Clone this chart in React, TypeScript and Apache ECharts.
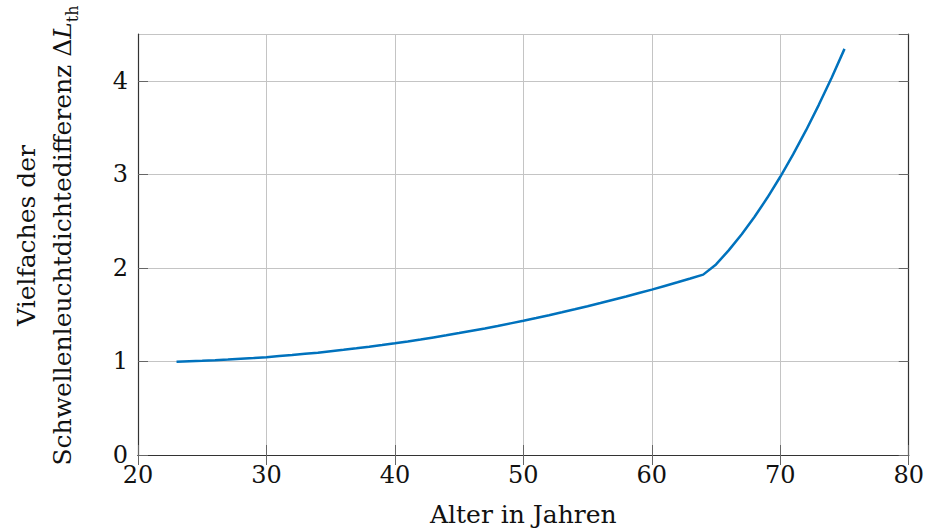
import React, { useEffect, useRef } from "react";
import * as echarts from "echarts";

// Age in years
const ages = [
  23, 24, 25, 26, 27, 28, 29, 30, 31, 32, 33, 34, 35, 36, 37, 38, 39, 40, 41, 42, 43, 44, 45, 46, 47,
  48, 49, 50, 51, 52, 53, 54, 55, 56, 57, 58, 59, 60, 61, 62, 63, 64, 65, 66, 67, 68, 69, 70, 71, 72,
  73, 74, 75,
];
// Multiple of the threshold luminance difference
const factors = [
  0.997, 1.002, 1.007, 1.013, 1.02, 1.028, 1.036, 1.046, 1.057, 1.068, 1.081, 1.094, 1.109, 1.124,
  1.14, 1.157, 1.175, 1.194, 1.214, 1.235, 1.257, 1.279, 1.303, 1.328, 1.353, 1.379, 1.407, 1.435,
  1.464, 1.494, 1.525, 1.557, 1.59, 1.624, 1.659, 1.694, 1.731, 1.768, 1.807, 1.846, 1.886, 1.928,
  2.037, 2.19, 2.36, 2.547, 2.752, 2.974, 3.213, 3.469, 3.743, 4.033, 4.341,
];

const xTitle = "Alter in Jahren";
const yTitle = "Vielfaches der\nSchwellenleuchtdichtedifferenz Δ{it|L}{sub|th}";

const FONT = "DejaVu Serif";
const FS_TICK = 24;
const FS_NAME = 25;

export default function App() {
  const ref = useRef<HTMLDivElement>(null);
  useEffect(() => {
    document.body.style.margin = "0";
    const chart = echarts.init(ref.current!, undefined, { renderer: "svg" });
    const frameColor = "#333333";
    const gridColor = "#c4c4c4";
    const tickCfg = { show: true, inside: true, length: 10, lineStyle: { color: "#666", width: 1 } };
    chart.setOption({
      animation: false,
      backgroundColor: "#ffffff",
      grid: { left: 135, right: 15, top: 34, bottom: 77, containLabel: false },
      xAxis: [
        {
          type: "value",
          min: 20,
          max: 80,
          interval: 10,
          position: "bottom",
          axisLine: { show: true, lineStyle: { color: frameColor, width: 1.2 } },
          axisTick: tickCfg,
          axisLabel: {
            color: "#111",
            fontFamily: FONT,
            fontSize: FS_TICK,
            lineHeight: 20,
            margin: 10,
          },
          splitLine: { show: true, lineStyle: { color: gridColor, width: 1 } },
          name: xTitle,
          nameLocation: "middle",
          nameGap: 47,
          nameTextStyle: { color: "#111", fontFamily: FONT, fontSize: FS_NAME },
        },
        {
          type: "value",
          min: 20,
          max: 80,
          interval: 10,
          position: "top",
          axisLine: { show: true, lineStyle: { color: frameColor, width: 1.2 } },
          axisTick: tickCfg,
          axisLabel: { show: false },
          splitLine: { show: false },
        },
      ],
      yAxis: [
        {
          type: "value",
          min: 0,
          max: 4.5,
          interval: 1,
          position: "left",
          axisLine: { show: true, lineStyle: { color: frameColor, width: 1.2 } },
          axisTick: tickCfg,
          axisLabel: {
            color: "#111",
            fontFamily: FONT,
            fontSize: FS_TICK,
            lineHeight: 18,
            margin: 10,
            showMaxLabel: false,
            formatter: (v: number) => (Number.isInteger(v) ? String(v) : ""),
          },
          splitLine: { show: true, lineStyle: { color: gridColor, width: 1 } },
          name: yTitle,
          nameLocation: "middle",
          nameRotate: 90,
          nameGap: 58,
          nameTextStyle: {
            color: "#111",
            fontFamily: FONT,
            fontSize: FS_NAME,
            lineHeight: 36,
            align: "center",
            padding: [0, 0, 0, 18],
            rich: {
              it: { fontFamily: FONT, fontSize: FS_NAME, fontStyle: "italic", color: "#111" },
              sub: {
                fontFamily: FONT,
                fontSize: 16,
                color: "#111",
                verticalAlign: "bottom",
              },
            },
          },
        },
        {
          type: "value",
          min: 0,
          max: 4.5,
          interval: 1,
          position: "right",
          axisLine: { show: true, lineStyle: { color: frameColor, width: 1.2 } },
          axisTick: tickCfg,
          axisLabel: { show: false },
          splitLine: { show: false },
        },
      ],
      series: [
        {
          type: "line",
          xAxisIndex: 0,
          yAxisIndex: 0,
          data: ages.map((a, i) => [a, factors[i]]),
          showSymbol: false,
          symbol: "none",
          lineStyle: { color: "#0072bd", width: 2.5 },
          itemStyle: { color: "#0072bd" },
        },
      ],
    });
    return () => chart.dispose();
  }, []);
  return <div ref={ref} style={{ width: 927, height: 532 }} />;
}
